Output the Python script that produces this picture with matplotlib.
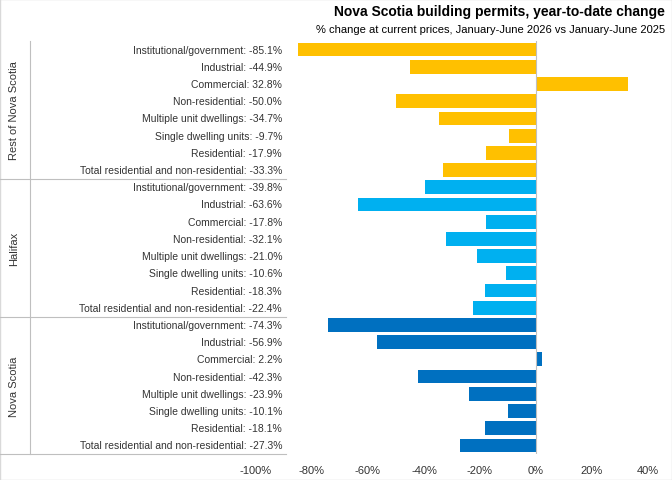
import matplotlib
matplotlib.use("Agg")
import matplotlib.pyplot as plt
from matplotlib.transforms import blended_transform_factory
from matplotlib.lines import Line2D
from matplotlib.patches import Rectangle

GROUPS = ["Rest of Nova Scotia", "Halifax", "Nova Scotia"]
CATEGORIES = ["Institutional/government", "Industrial", "Commercial", "Non-residential",
              "Multiple unit dwellings", "Single dwelling units", "Residential",
              "Total residential and non-residential"]
REST = [-85.1, -44.9, 32.8, -50.0, -34.7, -9.7, -17.9, -33.3]
HALIFAX = [-39.8, -63.6, -17.8, -32.1, -21.0, -10.6, -18.3, -22.4]
NOVA = [-74.3, -56.9, 2.2, -42.3, -23.9, -10.1, -18.1, -27.3]
COLORS = ["#FFC000", "#00B0F0", "#0070C0"]
XTICKS = [-100, -80, -60, -40, -20, 0, 20, 40]

plt.rcParams["font.family"] = ["Liberation Sans", "DejaVu Sans"]
W, H = 672, 481
fig = plt.figure(figsize=(W / 100, H / 100), dpi=100)
ax = fig.add_axes([256 / W, 1 - 455 / H, (660 - 256) / W, (455 - 42) / H])

n = len(CATEGORIES)
total = n * 3
trans = blended_transform_factory(ax.transData, ax.transData)
for g, (vals, col) in enumerate(zip([REST, HALIFAX, NOVA], COLORS)):
    for i, (cat, v) in enumerate(zip(CATEGORIES, vals)):
        y = total - 1 - (g * n + i)
        ax.barh(y, v, height=0.8, color=col)
        ax.text(-90.7, y, f"{cat}: {v:.1f}%", ha="right", va="center", fontsize=7.5,
                color="#333333", clip_on=False)

ax.set_ylim(-0.5, total - 0.5)
ax.set_xlim(-100, 44.3)
ax.set_xticks(XTICKS)
ax.set_xticklabels([f"{t}%" for t in XTICKS], fontsize=8, color="#333333")
ax.set_yticks([])
for s in ["top", "right", "left"]:
    ax.spines[s].set_visible(False)
ax.spines["bottom"].set_visible(False)
ax.tick_params(axis="x", length=0, pad=8)
ax.axvline(0, color="#bfbfbf", lw=0.8)

# group column lines and separators (figure pixel coords)
def fx(px):
    return px / W

def fy(py):
    return 1 - py / H

for py in [180, 318]:
    fig.add_artist(Line2D([fx(0), fx(286)], [fy(py), fy(py)], color="#bfbfbf", lw=0.8))
fig.add_artist(Line2D([fx(30), fx(30)], [fy(42), fy(455)], color="#bfbfbf", lw=0.8))
fig.add_artist(Line2D([fx(0), fx(286)], [fy(455), fy(455)], color="#bfbfbf", lw=0.8))
for name, (a, b) in zip(GROUPS, [(42, 180), (180, 318), (318, 455)]):
    fig.text(fx(14), fy((a + b) / 2), name, rotation=90, ha="center", va="center",
             fontsize=8, color="#333333")

fig.text(fx(665), fy(12), "Nova Scotia building permits, year-to-date change",
         ha="right", va="center", fontsize=10, fontweight="bold")
fig.text(fx(665), fy(30), "% change at current prices, January-June 2026 vs January-June 2025",
         ha="right", va="center", fontsize=8)
fig.add_artist(Rectangle((0, 0), 1, 1, transform=fig.transFigure, fill=False,
                         edgecolor="#d9d9d9", lw=1))

fig.savefig("out.png", dpi=100)
